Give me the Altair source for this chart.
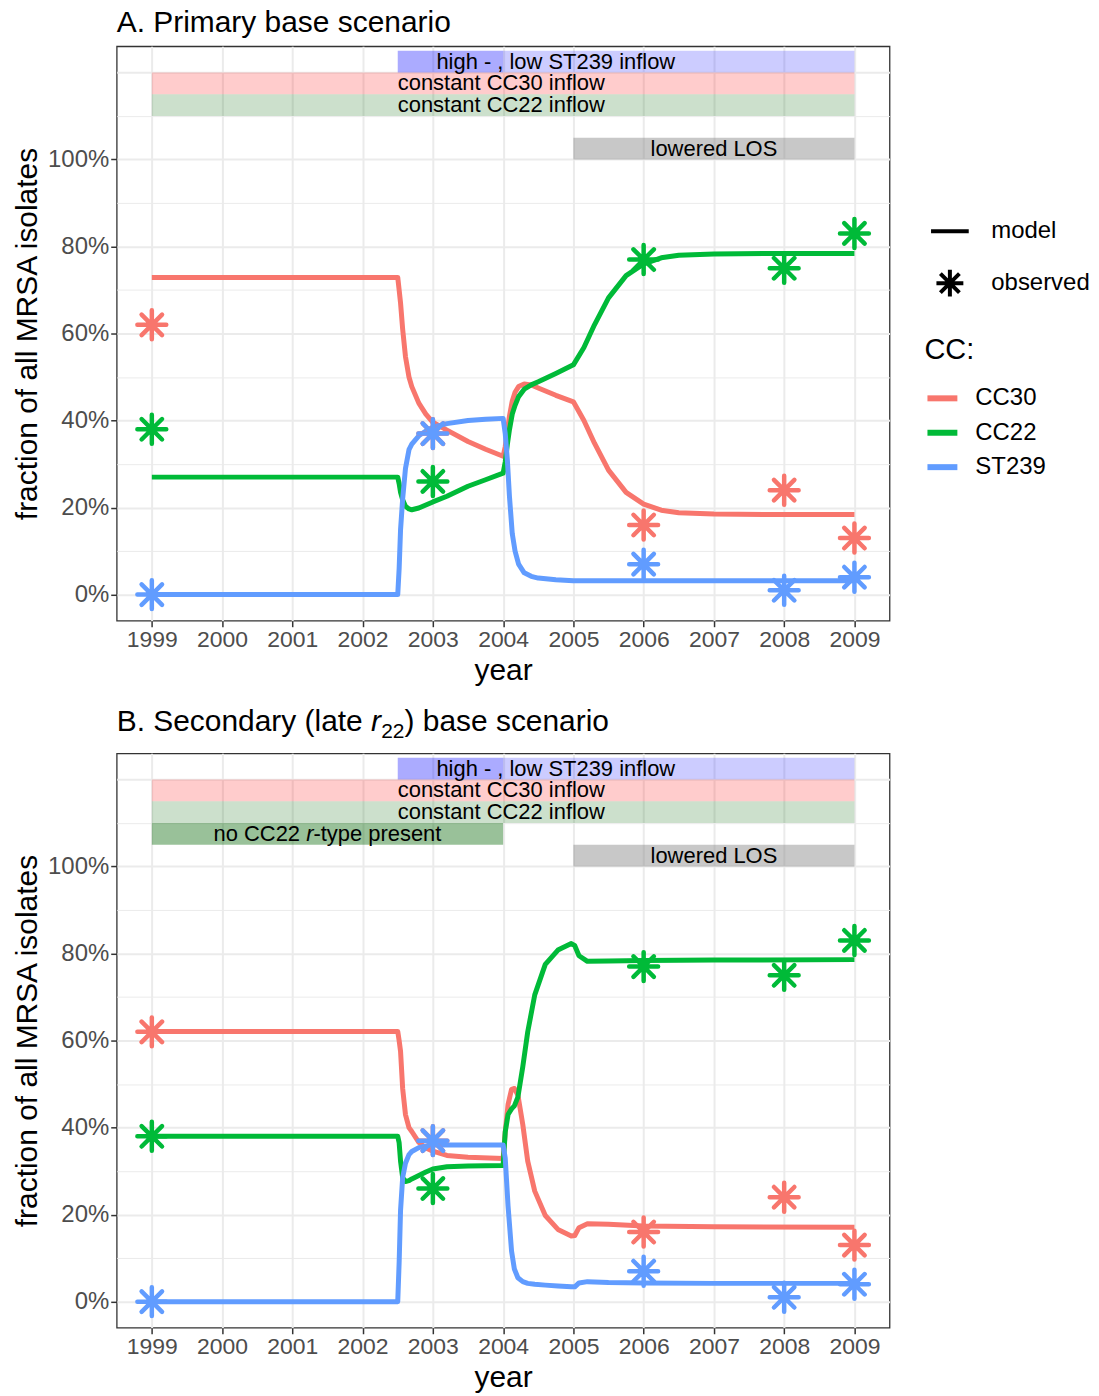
import altair as alt
import pandas as pd

FONT = "Liberation Sans"

SERIES = ["CC30", "CC22", "ST239"]
SERIES_COLORS = ["#F8766D", "#00BA38", "#619CFF"]

# ---------------- model curves, panel A ----------------
A_YEAR = [1999, 2002.5, 2002.52, 2002.54, 2002.57, 2002.61, 2002.66, 2002.7, 2002.8, 2002.9,
          2003.0, 2003.2, 2003.5, 2003.75, 2004.0, 2004.03, 2004.06, 2004.09, 2004.13, 2004.17,
          2004.22, 2004.3, 2004.4, 2004.5, 2004.75, 2005.0, 2005.15, 2005.3, 2005.5, 2005.75,
          2006.0, 2006.25, 2006.5, 2007.0, 2008.0, 2009.0]
A_CC30 = [72.9, 72.9, 70, 67, 61, 54.7, 50, 47.8, 44, 41.5,
          39.6, 37.8, 35.2, 33.4, 31.8, 34.0, 37.5, 41, 44.5, 46.5,
          47.8, 48.4, 48.2, 47.5, 45.8, 44.3, 40.0, 34.8, 28.6, 23.5,
          20.8, 19.4, 18.8, 18.5, 18.4, 18.4]
A_CC22 = [27.0, 27.0, 25.5, 23.5, 21.8, 20.3, 19.7, 19.5, 19.9, 20.6,
          21.3, 22.6, 24.9, 26.4, 27.9, 30.5, 34.5, 37.9, 41.5, 43.5,
          45.5, 47.2, 48.2, 48.9, 50.8, 52.8, 56.8, 62.0, 68.2, 73.3,
          76.0, 77.4, 78.0, 78.3, 78.4, 78.4]
A_ST239 = [0, 0, 6, 14.9, 22, 29, 33.3, 34.6, 36.5, 37.6,
           38.5, 39.3, 40.0, 40.3, 40.5, 37, 31, 22.6, 14, 10,
           7, 5, 4.2, 3.8, 3.4, 3.2, 3.2, 3.2, 3.2, 3.2,
           3.2, 3.2, 3.2, 3.2, 3.2, 3.2]

# ---------------- model curves, panel B ----------------
B_YEAR = [1999, 2002.5, 2002.52, 2002.54, 2002.57, 2002.61, 2002.66, 2002.7, 2002.8, 2002.9,
          2003.0, 2003.2, 2003.5, 2004.0, 2004.03, 2004.07, 2004.12, 2004.16, 2004.21, 2004.28,
          2004.35, 2004.45, 2004.6, 2004.78, 2004.97, 2005.02, 2005.08, 2005.2, 2005.5, 2006.0,
          2007.0, 2009.0]
B_CC30 = [62.1, 62.1, 60, 57.5, 49, 43, 40, 39.1, 36.6, 35.3,
          34.6, 33.6, 33.2, 32.9, 39, 45.3, 48.8, 49.0, 47.5, 40.7,
          32.3, 25.4, 19.8, 16.6, 15.1, 15.2, 17.0, 17.9, 17.8, 17.4,
          17.2, 17.1]
B_CC22 = [38.0, 38.0, 36.5, 32.3, 28.5, 27.6, 27.8, 28.2, 29.0, 29.8,
          30.5, 31.0, 31.2, 31.3, 39, 43, 44.3, 45.0, 47, 54,
          62, 70.5, 77.5, 80.8, 82.3, 81.8, 79.5, 78.2, 78.3, 78.4,
          78.5, 78.6]
B_ST239 = [0, 0, 9, 21, 28.5, 31.8, 33.8, 34.5, 35.4, 35.8,
           36.0, 36.0, 36.0, 36.0, 33, 22, 11.6, 7.5, 5.5, 4.6,
           4.2, 4.0, 3.8, 3.6, 3.4, 3.4, 4.3, 4.6, 4.4, 4.3,
           4.2, 4.2]

# ---------------- observed ----------------
OBS_YEAR = [1999, 2003, 2006, 2008, 2009]
OBS_CC30 = [62, 37, 16, 24, 13]
OBS_CC22 = [38, 26, 77, 75, 83]
OBS_ST239 = [0, 37, 7, 1, 4]

YEAR_TICKS = list(range(1999, 2010))
PCT_TICKS = [0, 20, 40, 60, 80, 100]

# ---------------- annotation bands ----------------
BAND_NAMES_A = ["st239_high", "st239_low", "cc30", "cc22", "los"]
BAND_X1_A = [2002.5, 2004, 1999, 1999, 2005]
BAND_X2_A = [2004, 2009, 2009, 2009, 2009]
BAND_Y1_A = [120, 120, 115, 110, 100]
BAND_Y2_A = [125, 125, 120, 115, 105]

BAND_NAMES_B = ["st239_high", "st239_low", "cc30", "cc22", "r22_absent", "los"]
BAND_X1_B = [2002.5, 2004, 1999, 1999, 1999, 2005]
BAND_X2_B = [2004, 2009, 2009, 2009, 2004, 2009]
BAND_Y1_B = [120, 120, 115, 110, 105, 100]
BAND_Y2_B = [125, 125, 120, 115, 110, 105]

LEFT_LABELS = ["high - , low ST239 inflow", "constant CC30 inflow", "constant CC22 inflow"]
LEFT_LABEL_X = [2003.05, 2002.5, 2002.5]
LEFT_LABEL_Y = [122.5, 117.5, 112.5]
LOS_LABEL = ["lowered LOS"]
LOS_LABEL_X = [2007]
LOS_LABEL_Y = [102.5]
R22_LABEL_PARTS = ["no CC22 ", "r", "-type present"]
R22_LABEL_X = [2001.5]
R22_LABEL_Y = [107.5]

TITLE_A = "A. Primary base scenario"
TITLE_B_PARTS = ["B. Secondary (late ", "r", "22", ") base scenario"]

# ---------------- styles ----------------
BAND_STYLE_NAMES = ["st239_high", "st239_low", "cc30", "cc22", "r22_absent", "los"]
BAND_STYLE_FILL = ["rgba(0,0,255,0.33)", "rgba(0,0,255,0.2)", "rgba(255,0,0,0.2)",
                   "rgba(0,100,0,0.2)", "rgba(0,100,0,0.4)", "rgba(127,127,127,0.43)"]
ASTERISK = "M0,-1L0,1M-1,0L1,0M-0.7071,-0.7071L0.7071,0.7071M-0.7071,0.7071L0.7071,-0.7071"
MODEL_SYMBOL = "M-1.4,0L1.4,0"

X_SCALE = alt.Scale(domain=[1998.5, 2009.5], nice=False, zero=False)
Y_SCALE = alt.Scale(domain=[-6, 126], nice=False, zero=False)
X_GRID = [y + h for y in YEAR_TICKS for h in (0, 0.5)]
Y_GRID = list(range(0, 121, 10))

X_AXIS = alt.Axis(
    values=X_GRID, title="year", format="d",
    labelExpr="datum.value % 1 == 0 ? datum.label : ''",
    tickOpacity={"condition": {"test": "datum.value % 1 != 0", "value": 0}, "value": 1},
    gridWidth={"condition": {"test": "datum.value % 1 != 0", "value": 1}, "value": 2},
    labelOverlap=False, labelFlush=False,
)
Y_AXIS = alt.Axis(
    values=Y_GRID, title="fraction of all MRSA isolates",
    labelExpr="(datum.value % 20 == 0 && datum.value <= 100) ? datum.value + '%' : ''",
    tickOpacity={"condition": {"test": "datum.value % 20 != 0 || datum.value > 100", "value": 0}, "value": 1},
    gridWidth={"condition": {"test": "datum.value % 20 != 0", "value": 1}, "value": 2},
    labelOverlap=False,
)


def model_df(years, cc30, cc22, st239):
    rows = []
    for name, vals in zip(SERIES, [cc30, cc22, st239]):
        for x, v in zip(years, vals):
            rows.append({"year": x, "value": v, "CC": name})
    return pd.DataFrame(rows)


def obs_df():
    rows = []
    for name, vals in zip(SERIES, [OBS_CC30, OBS_CC22, OBS_ST239]):
        for x, v in zip(OBS_YEAR, vals):
            rows.append({"year": x, "value": v, "CC": name, "kind": "observed"})
    return pd.DataFrame(rows)


def panel(years, cc30, cc22, st239, names, x1, x2, y1, y2, with_r22, title_layers, legends):
    color_scale = alt.Scale(domain=SERIES, range=SERIES_COLORS)
    band_df = pd.DataFrame({"band": names, "x1": x1, "x2": x2, "y1": y1, "y2": y2})
    rect = alt.Chart(band_df).mark_rect().encode(
        x=alt.X("x1:Q", scale=X_SCALE, axis=X_AXIS), x2="x2:Q",
        y=alt.Y("y1:Q", scale=Y_SCALE, axis=Y_AXIS), y2="y2:Q",
        fill=alt.Fill("band:N", scale=alt.Scale(domain=BAND_STYLE_NAMES, range=BAND_STYLE_FILL), legend=None),
    )
    txt_kw = dict(font=FONT, fontSize=22, color="black", baseline="middle")
    left_lab = alt.Chart(pd.DataFrame({"t": LEFT_LABELS, "x": LEFT_LABEL_X, "y": LEFT_LABEL_Y})).mark_text(
        align="left", **txt_kw).encode(
        x=alt.X("x:Q", scale=X_SCALE, axis=X_AXIS), y=alt.Y("y:Q", scale=Y_SCALE, axis=Y_AXIS), text="t:N")
    los_lab = alt.Chart(pd.DataFrame({"t": LOS_LABEL, "x": LOS_LABEL_X, "y": LOS_LABEL_Y})).mark_text(
        align="center", **txt_kw).encode(
        x=alt.X("x:Q", scale=X_SCALE, axis=X_AXIS), y=alt.Y("y:Q", scale=Y_SCALE, axis=Y_AXIS), text="t:N")
    layers = [rect, left_lab, los_lab]
    if with_r22:
        offsets = [-114.3, -21.4, -14.1]
        styles = ["normal", "italic", "normal"]
        for part, dx, st in zip(R22_LABEL_PARTS, offsets, styles):
            layers.append(
                alt.Chart(pd.DataFrame({"t": [part], "x": R22_LABEL_X, "y": R22_LABEL_Y})).mark_text(
                    align="left", dx=dx, fontStyle=st, **txt_kw).encode(
                    x=alt.X("x:Q", scale=X_SCALE, axis=X_AXIS), y=alt.Y("y:Q", scale=Y_SCALE, axis=Y_AXIS),
                    text="t:N"))
    if legends:
        color_legend = alt.Legend(title="CC:", orient="none", legendX=810, legendY=291,
                                  symbolType="stroke", symbolSize=900, symbolStrokeWidth=6,
                                  labelOffset=15, rowPadding=4.5, titlePadding=15)
        shape_legend = alt.Legend(title=None, orient="none", legendX=820, legendY=170,
                                  symbolSize=729, symbolStrokeWidth=4, symbolStrokeColor="black",
                                  labelOffset=26, rowPadding=18)
    else:
        color_legend = None
        shape_legend = None
    lines = alt.Chart(model_df(years, cc30, cc22, st239)).mark_line(strokeWidth=5, strokeJoin="round").encode(
        x=alt.X("year:Q", scale=X_SCALE, axis=X_AXIS),
        y=alt.Y("value:Q", scale=Y_SCALE, axis=Y_AXIS),
        color=alt.Color("CC:N", scale=color_scale, legend=color_legend),
    )
    points = alt.Chart(obs_df()).mark_point(filled=False, size=841, strokeWidth=4.5, strokeCap="round",
                                            opacity=1).encode(
        x=alt.X("year:Q", scale=X_SCALE, axis=X_AXIS),
        y=alt.Y("value:Q", scale=Y_SCALE, axis=Y_AXIS),
        color=alt.Color("CC:N", scale=color_scale, legend=None),
        shape=alt.Shape("kind:N", scale=alt.Scale(domain=["model", "observed"], range=[MODEL_SYMBOL, ASTERISK]),
                        legend=shape_legend),
    )
    layers += [lines, points] + title_layers
    return alt.layer(*layers).properties(width=775, height=576)


def title_text(text, x, y, size=30, style="normal"):
    return alt.Chart(pd.DataFrame({"t": [text]})).mark_text(
        align="left", baseline="top", font=FONT, fontSize=size, fontStyle=style, color="black").encode(
        x=alt.value(x), y=alt.value(y), text="t:N")


titles_a = [title_text(TITLE_A, 0, -38)]
titles_b = [
    title_text(TITLE_B_PARTS[0], 0, -46),
    title_text(TITLE_B_PARTS[1], 255.1, -46, style="italic"),
    title_text(TITLE_B_PARTS[2], 265.2, -32, size=21),
    title_text(TITLE_B_PARTS[3], 288.6, -46),
]

top = panel(A_YEAR, A_CC30, A_CC22, A_ST239, BAND_NAMES_A, BAND_X1_A, BAND_X2_A, BAND_Y1_A, BAND_Y2_A,
            False, titles_a, True)
bottom = panel(B_YEAR, B_CC30, B_CC22, B_ST239, BAND_NAMES_B, BAND_X1_B, BAND_X2_B, BAND_Y1_B, BAND_Y2_B,
               True, titles_b, False)

chart = alt.vconcat(top, bottom, spacing=20).resolve_scale(
    color="independent", fill="independent", shape="independent"
).resolve_legend(
    color="independent", fill="independent", shape="independent"
).properties(
    padding={"left": 3, "top": -2.5, "right": 0, "bottom": 0}
).configure(font=FONT).configure_view(
    stroke="#333333", strokeWidth=1.3
).configure_axis(
    labelFont=FONT, titleFont=FONT, labelFontSize=23, labelColor="#4D4D4D",
    titleFontSize=30, titleFontWeight="normal", titleColor="black",
    tickColor="#333333", tickSize=6, tickWidth=1.5, domain=False,
    gridColor="#EBEBEB", labelPadding=2,
).configure_axisX(titlePadding=4).configure_axisY(titlePadding=5, labelFontSize=24).configure_legend(
    labelFont=FONT, titleFont=FONT, labelFontSize=24, titleFontSize=29, titleFontWeight="normal",
    labelColor="black", titleColor="black", padding=0,
)

chart.save("out.html", embed_options={"renderer": "svg", "actions": False})
